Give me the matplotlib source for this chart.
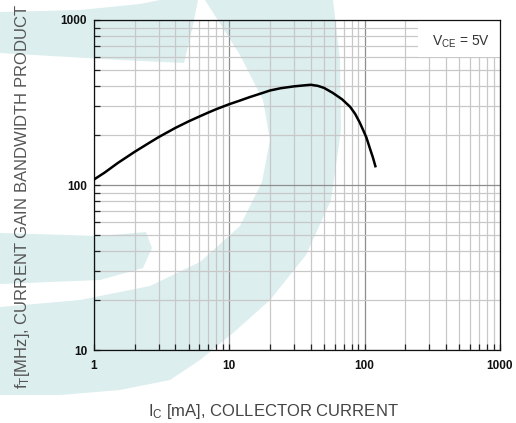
import matplotlib
matplotlib.use("Agg")
import matplotlib.pyplot as plt
from matplotlib.patches import Polygon, Rectangle
from matplotlib.ticker import FixedLocator, FixedFormatter, LogLocator, NullFormatter

# -------------------------
# data
# -------------------------
ic_ma = [1, 1.2, 1.5, 2, 2.5, 3, 4, 5, 6, 7, 8, 10, 12, 14, 17, 20, 24, 30, 35,
         40, 45, 50, 58, 68, 78, 85, 92, 97, 103, 110, 115, 120]
ft_mhz = [108, 119, 136, 159, 178, 195, 222, 243, 260, 275, 288, 309, 325, 340, 358,
          374, 386, 396, 401, 405, 399, 388, 362, 331, 298, 270, 239, 217, 194, 164, 147, 130]

x_ticks = [1, 10, 100, 1000]
x_labels = ["1", "10", "100", "1000"]
y_ticks = [10, 100, 1000]
y_labels = ["10", "100", "1000"]

# background logo outlines (figure pixels, y down)
teal = "#dceeee"
logo_top = [(0, 12), (80, 10), (140, 4), (160, 0), (198, 0), (192, 30), (184, 63),
            (120, 60), (0, 53)]
logo_mid = [(0, 233), (100, 236), (146, 232), (152, 248), (143, 268), (100, 280), (0, 284)]
logo_arc = [(205, 0), (333, 0), (340, 60), (341, 130), (331, 200), (306, 255), (270, 300),
            (233, 333), (200, 360), (170, 380), (120, 390), (60, 395), (0, 395),
            (0, 307), (80, 300), (150, 286), (200, 262), (240, 226), (262, 182),
            (270, 140), (263, 100), (240, 55)]

plt.rcParams.update({
    "font.family": ["Liberation Sans", "DejaVu Sans"],
    "mathtext.fontset": "custom",
    "mathtext.rm": "Liberation Sans",
    "mathtext.it": "Liberation Sans",
})

W, H = 516, 423
fig = plt.figure(figsize=(W / 100, H / 100), dpi=100)

bg = fig.add_axes([0, 0, 1, 1], zorder=0)
bg.set_xlim(0, W)
bg.set_ylim(H, 0)
bg.axis("off")
for shape in (logo_top, logo_mid, logo_arc):
    bg.add_patch(Polygon(shape, closed=True, fc=teal, ec="none"))

ax = fig.add_axes([94 / W, 1 - 350 / H, 406 / W, 330 / H], zorder=1)
ax.patch.set_alpha(0)
ax.set_xscale("log")
ax.set_yscale("log")
ax.set_xlim(1, 1000)
ax.set_ylim(10, 1000)
ax.set_axisbelow(True)

for axis, ticks, labels in ((ax.xaxis, x_ticks, x_labels), (ax.yaxis, y_ticks, y_labels)):
    axis.set_major_locator(FixedLocator(ticks))
    axis.set_major_formatter(FixedFormatter(labels))
    axis.set_minor_locator(LogLocator(base=10, subs=range(2, 10)))
    axis.set_minor_formatter(NullFormatter())

ax.grid(which="minor", color="#c8c8c8", lw=0.9)
ax.grid(which="major", color="#8e8e8e", lw=0.9)

ax.tick_params(which="both", direction="in", length=4, width=0.9, color="#222222",
               top=False, right=False)
ax.tick_params(which="major", labelsize=8.5, labelcolor="#111111", pad=5)
ax.tick_params(axis="x", which="major", pad=7)
for lab in ax.get_xticklabels() + ax.get_yticklabels():
    lab.set_fontweight("bold")

for sp in ax.spines.values():
    sp.set_color("#111111")
    sp.set_linewidth(0.9)

# label box in the corner
ax.add_patch(Rectangle((0.798, 0.888), 0.202, 0.112, transform=ax.transAxes,
                       fc="white", ec="none", zorder=1.5))
ax.text(0.904, 0.933, r"V$_{\mathregular{CE}}$ = 5V", transform=ax.transAxes,
        ha="center", va="center", fontsize=10, color="#333333", zorder=4)

ax.plot(ic_ma, ft_mhz, color="black", lw=1.8, zorder=3, solid_joinstyle="round")

fig.text(23 / W, 1 - 196 / H, r"f$_{\mathregular{T}}$[MHz], CURRENT GAIN BANDWIDTH PRODUCT",
         rotation=90, ha="center", va="center", fontsize=12, color="#555555")
fig.text(273 / W, 1 - 411 / H, r"I$_{\mathregular{C}}$ [mA], COLLECTOR CURRENT",
         ha="center", va="center", fontsize=12, color="#444444")

fig.savefig("out.png", dpi=100)
